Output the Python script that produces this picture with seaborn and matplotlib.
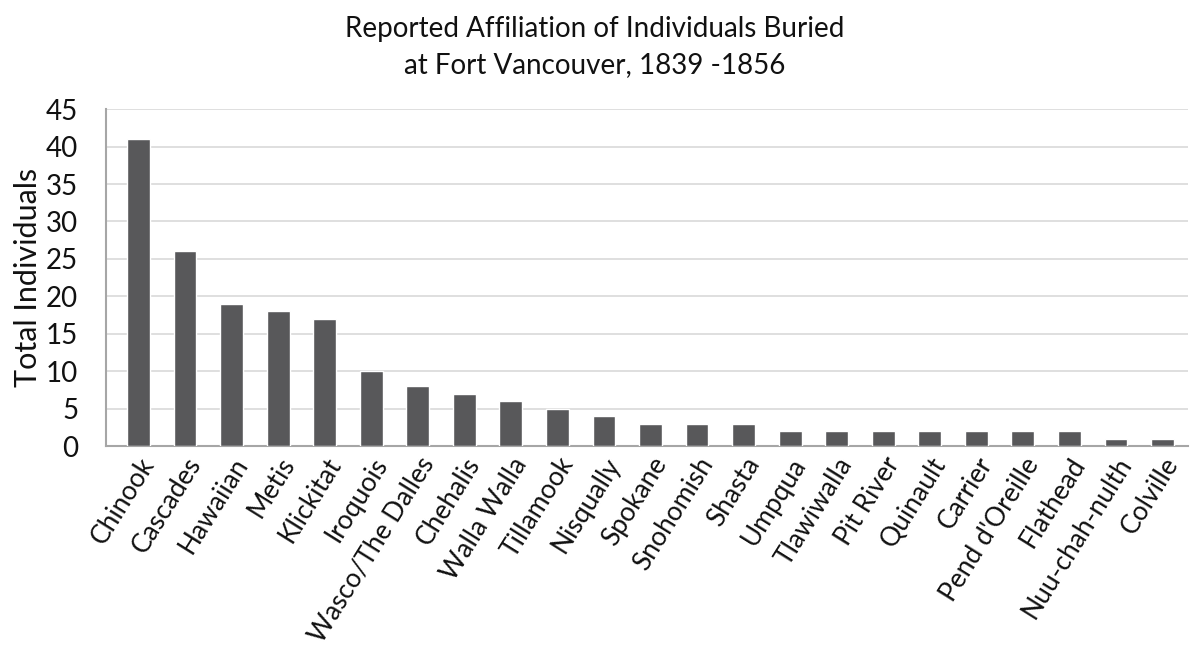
import matplotlib
matplotlib.use("Agg")
import matplotlib.pyplot as plt
import seaborn as sns
import pandas as pd

categories = ["Chinook", "Cascades", "Hawaiian", "Metis", "Klickitat", "Iroquois",
              "Wasco/The Dalles", "Chehalis", "Walla Walla", "Tillamook", "Nisqually",
              "Spokane", "Snohomish", "Shasta", "Umpqua", "Tlawiwalla", "Pit River",
              "Quinault", "Carrier", "Pend d'Oreille", "Flathead", "Nuu-chah-nulth", "Colville"]
values = [41, 26, 19, 18, 17, 10, 8, 7, 6, 5, 4, 3, 3, 3, 2, 2, 2, 2, 2, 2, 2, 1, 1]
yticks = [0, 5, 10, 15, 20, 25, 30, 35, 40, 45]

sns.set_style("white")
plt.rcParams['font.family'] = ['Lato', 'DejaVu Sans']

df = pd.DataFrame({"Affiliation": categories, "Total": values})

fig = plt.figure(figsize=(11.9, 6.54), dpi=100)
ax = fig.add_axes([0.089, 0.318, 0.909, 0.515])
sns.barplot(data=df, x="Affiliation", y="Total", color="#58585a", width=0.49,
            saturation=1, ax=ax, zorder=3)
ax.set_ylim(0, 45)
ax.set_yticks(yticks)
ax.set_xlim(-0.70, len(categories) - 0.46)
ax.grid(axis="y", color="#d9d9d9", linewidth=1.2, zorder=0)
for s in ["top", "right"]:
    ax.spines[s].set_visible(False)
for s in ["left", "bottom"]:
    ax.spines[s].set_color("#a6a6a6")
    ax.spines[s].set_linewidth(1.5)
ax.tick_params(axis="y", length=6, color="#d9d9d9", width=1.2, labelsize=20, pad=14,
               labelcolor="#111111")
ax.tick_params(axis="x", length=0, labelsize=19, pad=5, labelcolor="#111111")
plt.setp(ax.get_xticklabels(), rotation=58, ha="right", rotation_mode="anchor")
ax.set_xlabel("")
ax.set_ylabel("Total Individuals", fontsize=22, labelpad=3, color="#111111")
fig.suptitle("Reported Affiliation of Individuals Buried\nat Fort Vancouver, 1839 -1856",
             fontsize=20, y=0.975, linespacing=1.45, color="#111111")
fig.savefig("out.png", dpi=100)
